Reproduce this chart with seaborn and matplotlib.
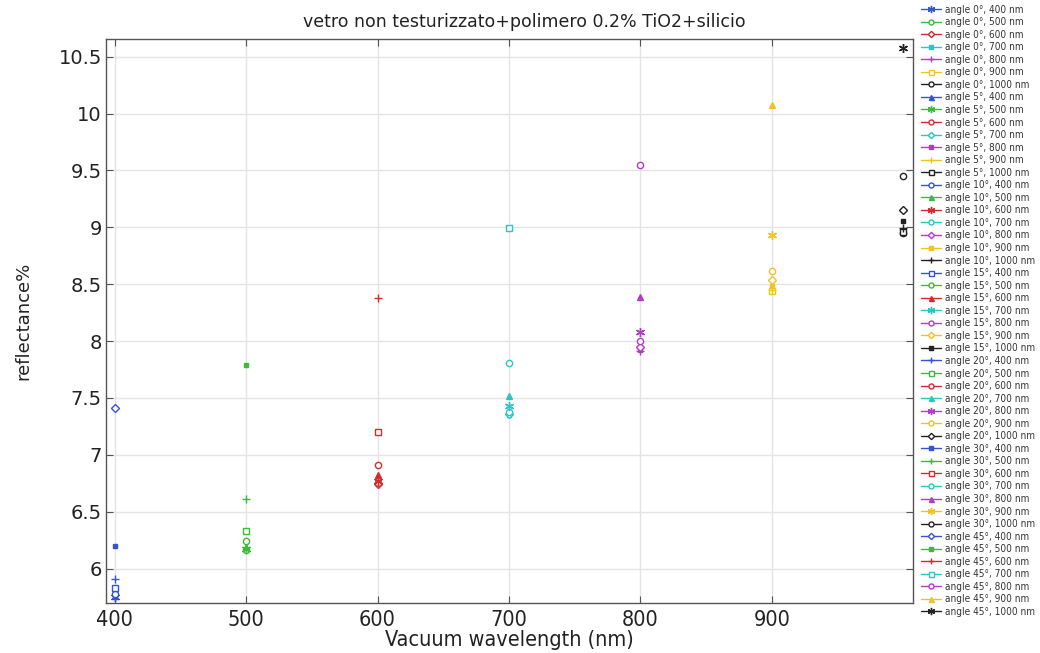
import matplotlib
matplotlib.use("Agg")
import matplotlib.pyplot as plt
import seaborn as sns
from matplotlib.ticker import MultipleLocator, FuncFormatter

# Incidence angles (degrees) and vacuum wavelengths (nm)
angles = [0, 5, 10, 15, 20, 30, 45]
wavelengths = [400, 500, 600, 700, 800, 900, 1000]

# Reflectance (%) per angle, one value per wavelength
refl_0 = [5.75, 6.16, 6.74, 7.35, 7.91, 8.44, 8.95]
refl_5 = [5.76, 6.17, 6.75, 7.36, 7.92, 8.45, 8.96]
refl_10 = [5.78, 6.19, 6.77, 7.38, 7.95, 8.48, 8.99]
refl_15 = [5.83, 6.24, 6.82, 7.43, 8.00, 8.54, 9.06]
refl_20 = [5.91, 6.33, 6.91, 7.52, 8.08, 8.62, 9.15]
refl_30 = [6.20, 6.61, 7.20, 7.81, 8.39, 8.93, 9.45]
refl_45 = [7.41, 7.79, 8.38, 8.99, 9.55, 10.08, 10.58]
reflectance = [refl_0, refl_5, refl_10, refl_15, refl_20, refl_30, refl_45]

xtick_values = [400, 500, 600, 700, 800, 900]

# Colour cycles with wavelength, marker cycles over all series
colors = ["#3553d3", "#3cba3c", "#d12d2d", "#2ec3c6", "#b23cc2", "#f0c224", "#222222"]
ASTERISK = (6, 2, 0)
# (marker, filled, size)
marker_cycle = [(ASTERISK, True, 6.5), ("o", False, 4.5), ("D", False, 4.0),
                ("s", True, 3.5), ("+", True, 6.0), ("s", False, 4.5),
                ("o", False, 4.5), ("^", True, 4.5)]

sns.set_theme(style="whitegrid")
plt.rcParams["font.family"] = ["DejaVu Sans"]
narrow = ["Liberation Sans Narrow", "DejaVu Sans"]

fig = plt.figure(figsize=(10.40, 6.53), dpi=100)
ax = fig.add_axes([0.102, 0.077, 0.776, 0.864])

idx = 0
for a, ang in enumerate(angles):
    for w, wl in enumerate(wavelengths):
        mk, filled, ms = marker_cycle[idx % len(marker_cycle)]
        col = colors[w]
        sns.lineplot(x=[wl], y=[reflectance[a][w]], ax=ax, color=col,
                     marker=mk, markersize=ms,
                     markerfacecolor=col if filled else "white",
                     markeredgecolor=col, markeredgewidth=1.0,
                     linewidth=1.0,
                     label=f"angle {ang}\u00b0, {wl} nm")
        idx += 1

ax.set_xlim(393.5, 1007.5)
ax.set_ylim(5.70, 10.66)
ax.set_xticks(xtick_values)
ax.yaxis.set_major_locator(MultipleLocator(0.5))
ax.yaxis.set_major_formatter(FuncFormatter(lambda v, p: f"{v:g}"))

ax.set_facecolor("white")
ax.grid(True, color="#e4e4e4", linewidth=1.0)
for s in ax.spines.values():
    s.set_color("#555555")
    s.set_linewidth(1.0)
ax.tick_params(direction="in", length=5, width=0.8, color="#555555",
               top=True, right=True, bottom=True, left=True)
ax.tick_params(axis="y", labelsize=14, pad=3, labelcolor="#222222")
ax.tick_params(axis="x", labelsize=15.5, pad=5, labelcolor="#222222")
for lab in ax.get_xticklabels():
    lab.set_family(narrow)
    lab.set_fontstretch("condensed")

ax.set_title("vetro non testurizzato+polimero 0.2% TiO2+silicio",
             fontsize=12.5, color="#222222", pad=8, x=0.518)
ax.set_xlabel("Vacuum wavelength (nm)", fontsize=15.5, family=narrow,
              fontstretch="condensed", color="#222222", labelpad=0)
ax.set_ylabel("reflectance%", fontsize=13, color="#222222", labelpad=19)

handles, labels = ax.get_legend_handles_labels()
if ax.legend_ is not None:
    ax.legend_.remove()
fig.legend(handles, labels, loc="upper left", bbox_to_anchor=(0.886, 0.993),
           frameon=False, labelspacing=0.255, handlelength=2.0,
           handletextpad=0.4, borderpad=0, borderaxespad=0, markerscale=0.8,
           labelcolor="#333333",
           prop={"family": narrow, "size": 7.2, "stretch": "condensed"})

fig.savefig("out.png", dpi=100)
